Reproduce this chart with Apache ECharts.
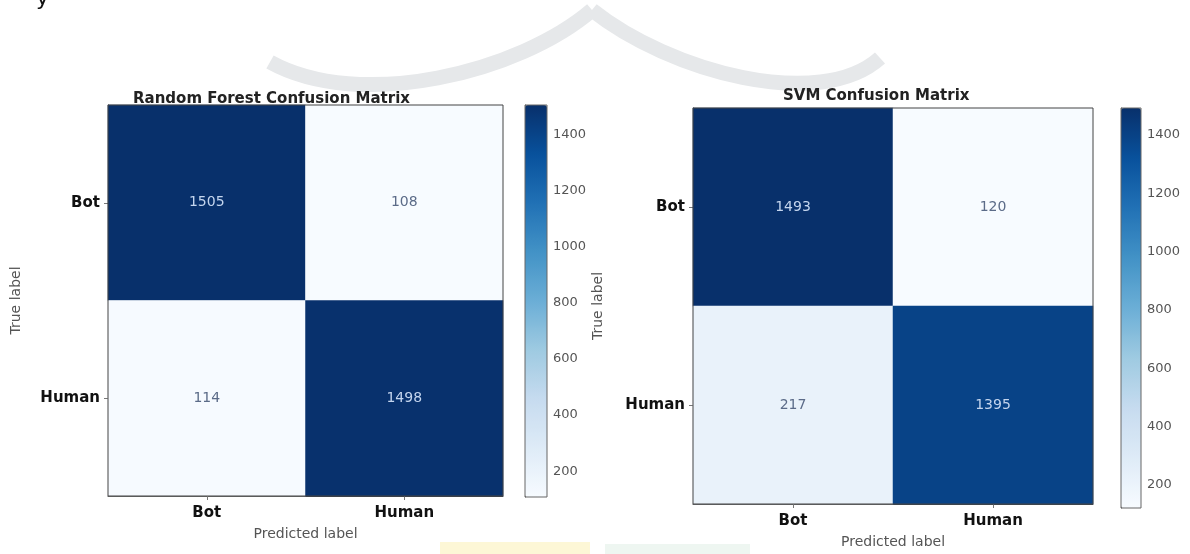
<!DOCTYPE html>
<html>
<head>
<meta charset="utf-8">
<script src="https://cdn.jsdelivr.net/npm/echarts@6/dist/echarts.min.js"></script>
<style>
  html, body { margin: 0; padding: 0; background: #fff; }
  #chart { width: 1190px; height: 554px; }
</style>
</head>
<body>
<div id="chart"></div>
<script>
// data
const trueLabels = ['Bot', 'Human'];
const predLabels = ['Bot', 'Human'];
const rfMatrix = [[1505, 108], [114, 1498]];
const svmMatrix = [[1493, 120], [217, 1395]];
const cbTicks = [200, 400, 600, 800, 1000, 1200, 1400];
const titles = ['Random Forest Confusion Matrix', 'SVM Confusion Matrix'];

// matplotlib "Blues"
const blues = ['#f7fbff', '#deebf7', '#c6dbef', '#9ecae1', '#6baed6', '#4292c6', '#2171b5', '#08519c', '#08306b'];

const font = 'DejaVu Sans';

function extent(m) {
    const flat = m.flat();
    return [Math.min(...flat), Math.max(...flat)];
}

function cells(m) {
    const [lo, hi] = extent(m);
    const mid = (lo + hi) / 2;
    const out = [];
    m.forEach((row, i) => {
        row.forEach((v, j) => {
            out.push({
                value: [j, i, v],
                label: { color: v > mid ? '#c4d5ee' : '#5b6b88' }
            });
        });
    });
    return out;
}

const rfExt = extent(rfMatrix);
const svmExt = extent(svmMatrix);

// plot boxes
const boxes = [
    { left: 108, top: 105, width: 395, height: 391 },
    { left: 693, top: 108, width: 400, height: 400 }
];
const bars = [
    { left: 525, top: 105, width: 22, height: 392 },
    { left: 1121, top: 108, width: 20, height: 400 }
];

const axisGrey = '#555';

function matrixX(i) {
    return {
        type: 'category', gridIndex: i, data: predLabels, position: 'bottom',
        name: 'Predicted label', nameLocation: 'middle', nameGap: 31,
        nameTextStyle: { fontFamily: font, fontSize: 14, color: axisGrey, verticalAlign: 'top' },
        axisLine: { show: true, lineStyle: { color: '#444' } },
        axisTick: { show: true, alignWithLabel: true, length: 4, lineStyle: { color: '#777' } },
        axisLabel: { fontFamily: font, fontSize: 15, fontWeight: 'bold', color: '#111', margin: 10 },
        splitLine: { show: false }
    };
}
function matrixY(i) {
    return {
        type: 'category', gridIndex: i, data: trueLabels, inverse: true,
        name: 'True label', nameLocation: 'middle', nameGap: i === 0 ? 85 : 88, nameRotate: 90,
        nameTextStyle: { fontFamily: font, fontSize: 14, color: axisGrey },
        axisLine: { show: true, lineStyle: { color: '#444' } },
        axisTick: { show: true, alignWithLabel: true, length: 4, lineStyle: { color: '#777' } },
        axisLabel: { fontFamily: font, fontSize: 15, fontWeight: 'bold', color: '#111', margin: 8 },
        splitLine: { show: false }
    };
}
function barX(i) {
    return { type: 'value', gridIndex: i, show: false, min: 0, max: 1 };
}
function barY(i, ext) {
    return {
        type: 'value', gridIndex: i, min: ext[0], max: ext[1], position: 'right',
        axisLine: { show: true, lineStyle: { color: '#666' } },
        axisTick: { show: true, length: 4, customValues: cbTicks, lineStyle: { color: '#666' } },
        axisLabel: {
            show: true, customValues: cbTicks, formatter: v => String(v),
            fontFamily: font, fontSize: 13, color: axisGrey, margin: 6
        },
        splitLine: { show: false }
    };
}

const chart = echarts.init(document.getElementById('chart'));
chart.setOption({
    backgroundColor: '#fff',
    animation: false,
    title: [
        { text: titles[0], left: 128, top: 87, textStyle: { fontFamily: font, fontSize: 15, fontWeight: 'bold', color: '#222' } },
        { text: titles[1], left: 778, top: 84, textStyle: { fontFamily: font, fontSize: 15, fontWeight: 'bold', color: '#222' } }
    ],
    grid: [
        Object.assign({ show: true, backgroundColor: 'transparent', borderColor: '#444', borderWidth: 1, z: 10 }, boxes[0]),
        Object.assign({ show: true, backgroundColor: 'transparent', borderColor: '#444', borderWidth: 1, z: 10 }, boxes[1]),
        Object.assign({ show: true, backgroundColor: 'transparent', borderColor: '#666', borderWidth: 1, z: 10 }, bars[0]),
        Object.assign({ show: true, backgroundColor: 'transparent', borderColor: '#666', borderWidth: 1, z: 10 }, bars[1])
    ],
    xAxis: [matrixX(0), matrixX(1), barX(2), barX(3)],
    yAxis: [matrixY(0), matrixY(1), barY(2, rfExt), barY(3, svmExt)],
    visualMap: [
        {
            type: 'continuous', seriesIndex: 0, min: rfExt[0], max: rfExt[1],
            inRange: { color: blues }, calculable: false, hoverLink: false,
            left: bars[0].left, top: bars[0].top, itemWidth: bars[0].width, itemHeight: bars[0].height,
            padding: 0, text: null
        },
        {
            type: 'continuous', seriesIndex: 1, min: svmExt[0], max: svmExt[1],
            inRange: { color: blues }, calculable: false, hoverLink: false,
            left: bars[1].left, top: bars[1].top, itemWidth: bars[1].width, itemHeight: bars[1].height,
            padding: 0, text: null
        }
    ],
    series: [
        {
            name: titles[0], type: 'heatmap', xAxisIndex: 0, yAxisIndex: 0,
            data: cells(rfMatrix),
            label: { show: true, fontFamily: font, fontSize: 14, formatter: p => p.value[2] }
        },
        {
            name: titles[1], type: 'heatmap', xAxisIndex: 1, yAxisIndex: 1,
            data: cells(svmMatrix),
            label: { show: true, fontFamily: font, fontSize: 14, formatter: p => p.value[2] }
        }
    ],
    graphic: [
        // faint page watermark behind the figure
        { type: 'bezierCurve', z: -10, silent: true,
          shape: { x1: 270, y1: 62, cpx1: 360, cpy1: 112, cpx2: 520, cpy2: 72, x2: 592, y2: 10 },
          style: { stroke: '#e6e8ea', lineWidth: 15, fill: null, lineJoin: 'miter' } },
        { type: 'bezierCurve', z: -10, silent: true,
          shape: { x1: 592, y1: 10, cpx1: 670, cpy1: 72, cpx2: 820, cpy2: 112, x2: 880, y2: 58 },
          style: { stroke: '#e6e8ea', lineWidth: 15, fill: null, lineJoin: 'miter' } },
        { type: 'rect', z: -10, silent: true, shape: { x: 440, y: 542, width: 150, height: 12 }, style: { fill: '#fdf7d6' } },
        { type: 'rect', z: -10, silent: true, shape: { x: 605, y: 544, width: 145, height: 10 }, style: { fill: '#eef6f1' } },
        { type: 'text', left: 36, top: -12, silent: true, style: { text: 'y', font: '22px "DejaVu Sans"', fill: '#111' } }
    ]
});
</script>
</body>
</html>
